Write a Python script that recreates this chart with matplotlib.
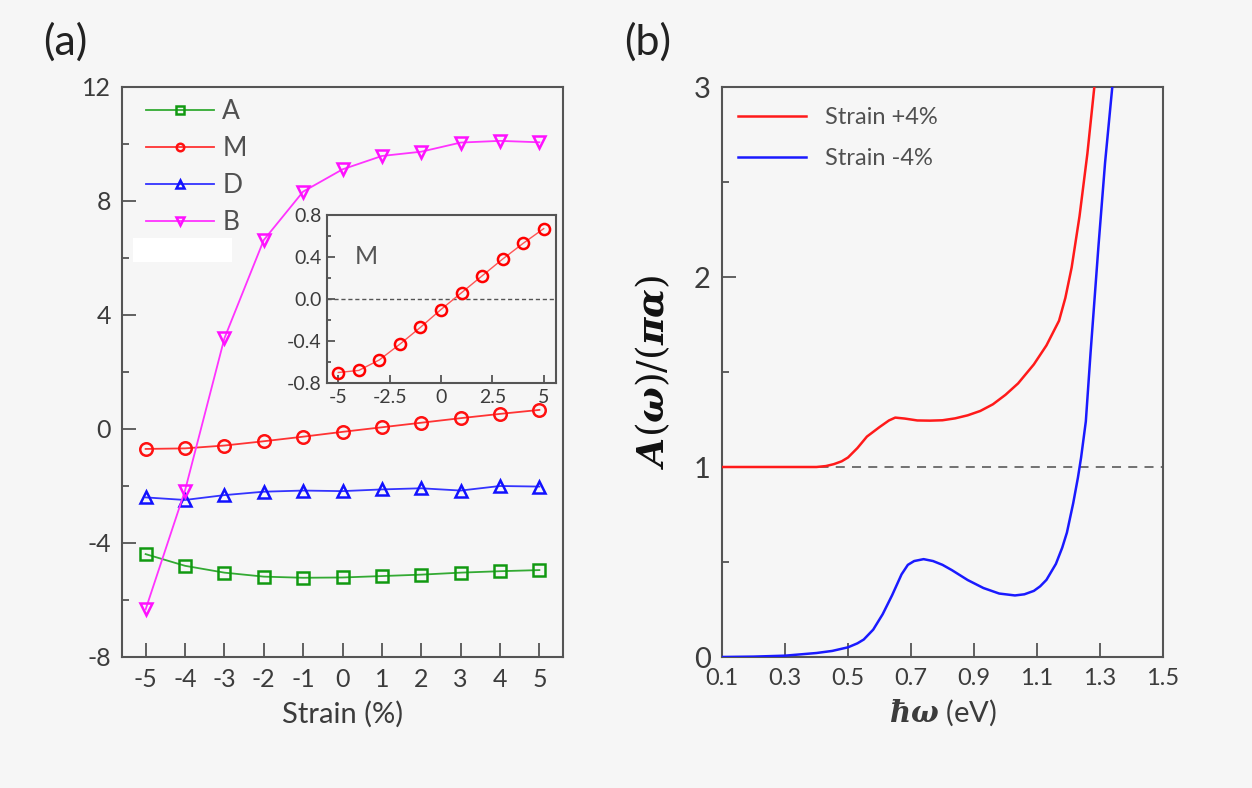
import matplotlib
matplotlib.use("Agg")
import matplotlib.pyplot as plt
from matplotlib.ticker import MultipleLocator, FixedLocator, FormatStrFormatter
from matplotlib.patches import Rectangle

plt.rcParams['font.family'] = ['Lato', 'DejaVu Sans']
plt.rcParams['font.weight'] = 'normal'
plt.rcParams['axes.unicode_minus'] = False
plt.rcParams['mathtext.fontset'] = 'dejavuserif'

# ---------------- data: panel (a) ----------------
strain = [-5, -4, -3, -2, -1, 0, 1, 2, 3, 4, 5]
A_vals = [-4.39, -4.80, -5.04, -5.18, -5.22, -5.21, -5.16, -5.11, -5.04, -4.99, -4.95]
M_vals = [-0.70, -0.68, -0.58, -0.43, -0.27, -0.10, 0.06, 0.22, 0.38, 0.53, 0.67]
D_vals = [-2.40, -2.49, -2.32, -2.20, -2.16, -2.18, -2.12, -2.08, -2.16, -2.00, -2.02]
B_vals = [-6.33, -2.16, 3.18, 6.63, 8.33, 9.11, 9.58, 9.73, 10.05, 10.11, 10.06]
series_labels = ['A', 'M', 'D', 'B']

# ---------------- data: panel (b) ----------------
e_plus = [0.10, 0.20, 0.30, 0.40, 0.43, 0.455, 0.48, 0.50, 0.53, 0.56, 0.60, 0.63,
          0.65, 0.68, 0.72, 0.76, 0.80, 0.84, 0.88, 0.92, 0.96, 1.00, 1.04, 1.09,
          1.13, 1.17, 1.19, 1.21, 1.235, 1.26, 1.282]
a_plus = [1.0, 1.0, 1.0, 1.0, 1.005, 1.015, 1.03, 1.05, 1.10, 1.16, 1.21, 1.245,
          1.26, 1.255, 1.245, 1.244, 1.246, 1.256, 1.272, 1.295, 1.33, 1.38, 1.44, 1.54,
          1.64, 1.77, 1.89, 2.05, 2.32, 2.65, 3.0]
e_minus = [0.10, 0.20, 0.30, 0.40, 0.45, 0.50, 0.53, 0.55, 0.58, 0.61, 0.64, 0.67,
           0.69, 0.71, 0.74, 0.77, 0.80, 0.83, 0.88, 0.93, 0.98, 1.03, 1.06, 1.09,
           1.11, 1.13, 1.16, 1.18, 1.195, 1.215, 1.23, 1.24, 1.255, 1.27, 1.295,
           1.316, 1.339]
a_minus = [0.0, 0.002, 0.007, 0.021, 0.032, 0.051, 0.072, 0.092, 0.144, 0.225, 0.325,
           0.435, 0.485, 0.505, 0.515, 0.505, 0.485, 0.457, 0.405, 0.363, 0.334, 0.324,
           0.330, 0.348, 0.372, 0.406, 0.49, 0.575, 0.655, 0.81, 0.945, 1.05, 1.24,
           1.60, 2.16, 2.60, 3.0]
curve_labels = ['Strain +4%', 'Strain -4%']

TXT = '#3c3c3c'
LEGTXT = '#505050'
SPINE = '#555555'
BG = '#f6f6f6'

fig = plt.figure(figsize=(12.52, 7.88), dpi=100, facecolor=BG)


def style_axes(ax, labelsize=17):
    ax.set_facecolor(BG)
    for s in ax.spines.values():
        s.set_color(SPINE)
        s.set_linewidth(1.5)
    ax.tick_params(which='both', direction='in', color=SPINE, labelcolor=TXT,
                   top=False, right=False, width=1.3)
    ax.tick_params(which='major', length=10, labelsize=labelsize, pad=8)
    ax.tick_params(which='minor', length=5)


# ---------------- panel (a) ----------------
axa = fig.add_axes([122 / 1252, 1 - 657 / 788, 441 / 1252, 570 / 788])
style_axes(axa, labelsize=18)
axa.set_xlim(-5.6, 5.6)
axa.set_ylim(-8, 12)
axa.xaxis.set_major_locator(MultipleLocator(1))
axa.yaxis.set_major_locator(MultipleLocator(4))
axa.yaxis.set_minor_locator(MultipleLocator(2))
axa.set_xlabel('Strain (%)', fontsize=21, color=TXT, labelpad=7)

colors = ['#119911', '#ff1111', '#1111ff', '#ff11ff']
linecolors = ['#33aa33', '#ff3333', '#3333ff', '#ff33ff']
markers = ['s', 'o', '^', 'v']
vals = [A_vals, M_vals, D_vals, B_vals]
handles = []
for v, c, lc, m, lab in zip(vals, colors, linecolors, markers, series_labels):
    h, = axa.plot(strain, v, color=lc, lw=1.3, marker=m, mfc='none', mec=c,
                  mew=1.8, ms=9, label=lab, zorder=3)
    handles.append(h)

leg = axa.legend(handles=handles, loc='upper left', frameon=False, fontsize=19,
                 handlelength=2.6, markerscale=0.6, labelspacing=0.45,
                 bbox_to_anchor=(0.0, 1.02), handletextpad=0.3, borderaxespad=0.5)
for t in leg.get_texts():
    t.set_color(LEGTXT)

# white artefact box below the legend
fig.patches.append(Rectangle((133 / 1252, 1 - 262 / 788), 99 / 1252, 24 / 788,
                             transform=fig.transFigure, facecolor='white',
                             edgecolor='none', zorder=5))

# inset
axi = fig.add_axes([327 / 1252, 1 - 383 / 788, 229 / 1252, 168 / 788])
style_axes(axi, labelsize=14)
axi.set_xlim(-5.55, 5.6)
axi.set_ylim(-0.8, 0.8)
axi.xaxis.set_major_locator(FixedLocator([-5, -2.5, 0, 2.5, 5]))
axi.set_xticklabels(['-5', '-2.5', '0', '2.5', '5'])
axi.yaxis.set_major_locator(MultipleLocator(0.4))
axi.yaxis.set_minor_locator(MultipleLocator(0.2))
axi.yaxis.set_major_formatter(FormatStrFormatter('%.1f'))
axi.tick_params(which='major', length=6, pad=4)
axi.tick_params(which='minor', length=3)
axi.axhline(0, color='#555555', lw=1.0, ls=(0, (3, 2)), zorder=1)
axi.plot(strain, M_vals, color='#ff5555', lw=1.0, marker='o', mfc='none',
         mec='#ff0000', mew=1.8, ms=8, zorder=3)
axi.text(0.12, 0.75, 'M', transform=axi.transAxes, fontsize=18, color='#555555',
         ha='left', va='center')

# ---------------- panel (b) ----------------
axb = fig.add_axes([722 / 1252, 1 - 657 / 788, 441 / 1252, 570 / 788])
style_axes(axb)
axb.set_xlim(0.1, 1.5)
axb.set_ylim(0, 3)
axb.xaxis.set_major_locator(FixedLocator([0.1, 0.3, 0.5, 0.7, 0.9, 1.1, 1.3, 1.5]))
axb.set_xticklabels(['0.1', '0.3', '0.5', '0.7', '0.9', '1.1', '1.3', '1.5'])
axb.yaxis.set_major_locator(MultipleLocator(1))
axb.yaxis.set_minor_locator(MultipleLocator(0.5))
axb.tick_params(axis='y', which='major', labelsize=21)

axb.axhline(1, color='#666666', lw=1.3, ls=(0, (5, 4)), zorder=1)
l1, = axb.plot(e_plus, a_plus, color='#ff1a1a', lw=1.8, label=curve_labels[0], zorder=3)
l2, = axb.plot(e_minus, a_minus, color='#1a1aff', lw=1.8, label=curve_labels[1], zorder=3)
legb = axb.legend(loc='upper left', frameon=False, fontsize=17, handlelength=2.9,
                  handletextpad=0.8, labelspacing=0.85, bbox_to_anchor=(-0.01, 1.0),
                  borderaxespad=0.45)
for t in legb.get_texts():
    t.set_color(LEGTXT)

axb.set_ylabel(r'$\mathbfit{A}(\mathbfit{\omega})/(\mathbfit{\pi\alpha})$', fontsize=27,
               color='#111111', labelpad=16)
axb.set_xlabel(r'$\mathbfit{\hbar\omega}$ (eV)', fontsize=21, color=TXT, labelpad=6)

# panel labels
fig.text(65 / 1252, 1 - 42 / 788, '(a)', fontsize=31, color='#222222',
         ha='center', va='center')
fig.text(648 / 1252, 1 - 42 / 788, '(b)', fontsize=31, color='#222222',
         ha='center', va='center')

fig.savefig('out.png', dpi=100, facecolor=BG)
